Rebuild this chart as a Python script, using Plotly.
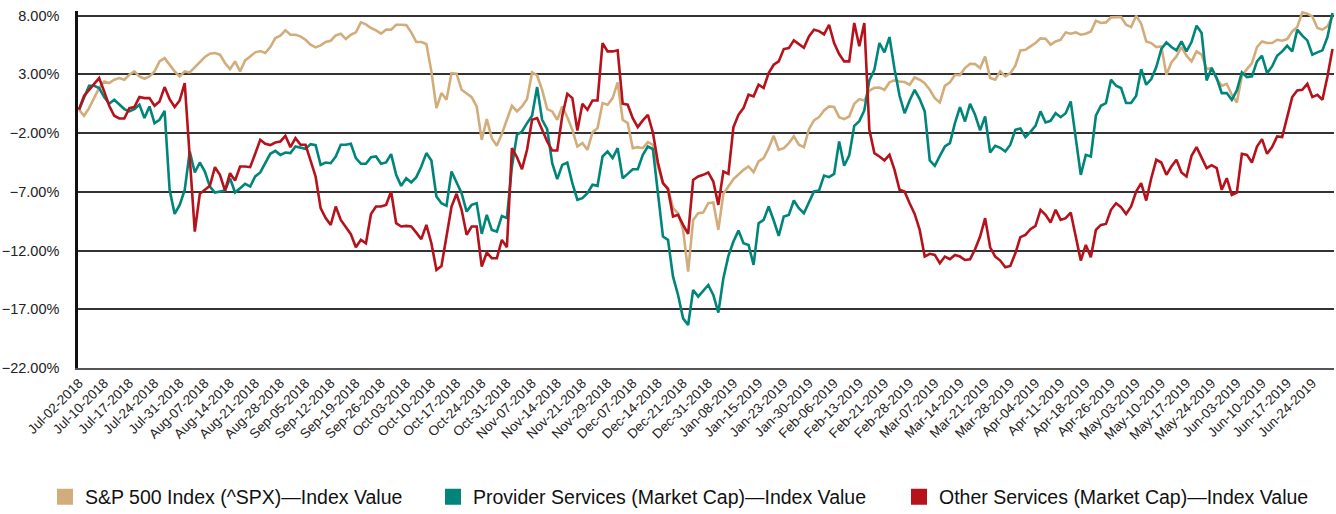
import pandas as pd
import plotly.graph_objects as go

# NYSE closures inside the window (trading days only on the x axis)
HOLIDAYS = ["2018-07-04", "2018-09-03", "2018-11-22", "2018-12-05", "2018-12-25",
            "2019-01-01", "2019-01-21", "2019-02-18", "2019-04-19", "2019-05-27"]

# daily change since Jul-02-2018, in %
sp500 = [
    0.0, -0.52, 0.13, 0.98, 1.84, 2.40, 2.26, 2.55, 2.69, 2.55,
    2.97, 3.26, 2.83, 2.63, 2.83, 3.26, 4.11, 4.39, 3.82, 3.26,
    2.83, 3.26, 3.17, 3.63, 4.11, 4.48, 4.76, 4.82, 4.68, 3.97,
    3.45, 4.11, 3.26, 4.19, 4.53, 4.88, 4.99, 4.82, 5.33, 6.10,
    6.30, 6.75, 6.38, 6.38, 6.24, 5.95, 5.53, 5.30, 5.47, 5.76,
    5.87, 6.32, 6.47, 6.01, 6.38, 6.58, 7.43, 7.26, 6.95, 6.75,
    6.47, 6.81, 6.81, 7.23, 7.23, 7.20, 6.58, 5.76, 5.76, 5.59,
    3.26, 0.13, 1.41, 0.84, 3.11, 3.06, 1.69, 1.41, 1.07, 0.27,
    -2.57, -0.81, -2.43, -3.08, -2.06, -0.86, 0.33, -0.15, 0.27, 0.90,
    3.17, 2.91, 1.69, 0.05, -0.15, -0.86, 0.27, -0.64, -1.72, -3.14,
    -2.85, -3.42, -1.94, -1.57, 0.56, 0.42, 0.98, 2.32, -0.86, -1.15,
    -3.28, -3.19, -3.28, -2.77, -2.99, -4.84, -6.26, -6.69, -8.39, -8.82,
    -10.24, -13.79, -9.39, -8.82, -8.76, -7.97, -7.91, -10.24, -7.17, -6.55,
    -5.92, -5.52, -5.13, -4.84, -5.32, -4.41, -4.13, -3.28, -2.23, -3.42,
    -3.28, -2.85, -2.28, -2.99, -3.19, -1.66, -0.92, -0.64, -0.07, 0.27,
    0.22, -0.64, -0.81, -0.58, 0.50, 0.90, 0.78, 1.61, 1.86, 1.89,
    1.69, 2.32, 2.49, 2.40, 2.35, 2.12, 2.74, 2.55, 2.26, 1.69,
    0.98, 0.61, 2.03, 2.32, 2.97, 2.94, 3.54, 3.91, 3.88, 3.54,
    4.53, 2.69, 2.55, 3.26, 2.83, 3.11, 3.74, 5.05, 5.10, 5.39,
    5.67, 6.07, 6.04, 5.53, 5.81, 5.95, 6.58, 6.47, 6.58, 6.38,
    6.47, 6.66, 7.57, 7.38, 7.43, 7.86, 7.89, 7.89, 7.23, 7.03,
    8.00, 7.32, 5.81, 5.67, 5.33, 5.39, 2.97, 4.02, 4.53, 5.33,
    4.59, 4.11, 4.96, 4.68, 3.45, 3.54, 2.60, 2.03, 2.20, 1.27,
    0.61, 2.89, 3.45, 3.97, 5.33, 5.81, 5.67, 5.67, 5.95, 5.87,
    6.01, 6.66, 7.03, 8.28, 8.17, 7.94, 6.95, 6.81, 7.09, 7.94,
]

provider = [
    0.0, 1.07, 2.03, 2.03, 1.84, 1.07, 0.50, 0.84, 0.47, 0.05,
    -0.15, 0.05, 0.42, -0.72, 0.27, -1.15, -0.86, -0.10, -6.83, -8.88,
    -8.11, -6.83, -3.56, -5.35, -4.50, -5.27, -6.55, -7.06, -6.97, -6.89,
    -5.84, -7.06, -6.69, -6.32, -6.55, -5.69, -5.35, -4.61, -3.76, -3.51,
    -3.85, -3.65, -3.70, -3.14, -3.25, -3.34, -2.94, -3.02, -4.70, -4.50,
    -4.56, -3.99, -2.99, -2.99, -2.91, -4.13, -4.61, -4.61, -4.05, -3.99,
    -4.61, -4.50, -3.79, -5.55, -6.49, -5.84, -6.20, -5.75, -4.84, -3.70,
    -4.33, -7.40, -7.97, -8.19, -5.27, -6.12, -7.11, -8.68, -8.11, -7.97,
    -10.58, -8.96, -10.24, -10.38, -9.05, -9.24, -4.84, -2.14, -1.86, -1.15,
    -0.52, 1.92, -0.86, -1.66, -4.56, -5.92, -4.70, -4.50, -6.26, -7.68,
    -7.54, -7.11, -6.40, -6.49, -3.99, -3.56, -4.13, -3.28, -5.84, -5.47,
    -5.07, -5.07, -3.85, -3.14, -3.36, -7.11, -10.81, -11.09, -14.22, -15.78,
    -17.77, -18.34, -15.35, -15.92, -15.41, -14.93, -15.78, -17.28, -14.36, -12.45,
    -11.23, -10.30, -11.38, -11.52, -13.22, -9.67, -9.39, -8.25, -9.44, -10.75,
    -9.10, -8.96, -7.74, -8.39, -8.82, -7.82, -6.97, -6.89, -5.61, -5.75,
    -5.47, -2.71, -4.78, -3.90, -1.38, -0.98, -0.07, 2.49, 3.40, 5.67,
    4.88, 6.18, 3.45, 1.18, -0.30, 0.78, 1.69, 0.90, -0.15, -4.33,
    -4.78, -3.93, -3.14, -2.85, -1.15, 0.22, -1.01, 0.50, -0.44, -1.77,
    -0.58, -3.65, -3.08, -3.25, -3.56, -2.99, -1.72, -1.60, -2.34, -1.89,
    -1.38, -0.15, -1.09, -0.95, -0.30, -0.64, -0.30, 0.70, -2.23, -5.55,
    -3.85, -3.99, -0.52, 0.33, 0.56, 2.55, 2.03, 1.84, 0.56, 0.56,
    1.18, 3.45, 2.12, 2.60, 3.63, 5.16, 5.73, 5.33, 5.05, 5.81,
    4.96, 5.76, 7.15, 6.52, 2.49, 3.54, 2.69, 1.41, 1.41, 0.84,
    1.64, 3.17, 2.77, 2.83, 4.11, 4.59, 3.11, 3.68, 4.59, 4.96,
    5.44, 4.96, 6.81, 6.30, 5.90, 4.68, 4.88, 5.05, 6.18, 8.23,
]

other = [
    0.0, 1.18, 1.69, 2.20, 2.69, 1.55, 0.33, -0.52, -0.75, -0.75,
    0.13, 0.22, 1.07, 0.98, 0.98, 0.33, 0.70, 1.92, 0.90, 0.22,
    0.78, 2.26, -3.99, -10.38, -7.17, -6.83, -6.49, -4.90, -5.55, -6.89,
    -5.41, -6.03, -4.84, -4.84, -4.90, -3.76, -2.57, -2.91, -3.02, -2.80,
    -2.71, -2.23, -3.19, -2.43, -2.99, -2.99, -4.41, -5.69, -8.39, -9.24,
    -9.81, -8.25, -9.39, -9.95, -10.61, -11.72, -11.09, -11.38, -8.88, -8.25,
    -8.25, -8.11, -6.97, -9.67, -9.95, -9.90, -9.95, -10.47, -11.03, -9.81,
    -11.38, -13.65, -13.31, -10.81, -8.25, -7.17, -8.53, -10.66, -9.95, -9.95,
    -13.36, -12.17, -12.65, -12.65, -11.09, -11.72, -3.28, -4.05, -5.07, -3.42,
    -0.86, -0.72, -1.77, -2.71, -3.48, -3.48, -0.52, 1.35, 0.98, -1.77,
    0.50, -0.01, 0.78, 0.78, 5.67, 4.96, 4.96, 5.05, 0.50, 0.42,
    -0.72, -1.49, -0.92, -0.44, -1.94, -4.50, -6.26, -6.77, -9.10, -8.96,
    -9.81, -10.58, -5.98, -5.69, -5.55, -5.35, -6.12, -8.11, -5.27, -5.47,
    -1.49, -0.44, 0.13, 1.27, 1.13, 2.12, 1.84, 3.11, 3.82, 4.11,
    5.16, 5.24, 5.90, 5.61, 5.27, 6.24, 6.81, 6.69, 6.41, 7.23,
    5.67, 4.73, 4.11, 4.11, 7.38, 5.39, 7.38, -1.72, -3.70, -3.99,
    -4.33, -3.85, -5.13, -6.83, -6.97, -7.97, -8.88, -10.24, -12.51, -12.28,
    -12.37, -13.08, -12.51, -12.74, -12.37, -12.51, -12.80, -12.74, -11.89, -10.81,
    -9.24, -11.72, -12.51, -12.85, -13.42, -13.31, -12.23, -10.86, -10.66, -10.18,
    -9.90, -8.53, -8.96, -9.61, -8.53, -9.39, -9.24, -8.76, -10.95, -12.85,
    -11.52, -12.57, -10.24, -9.81, -9.73, -8.53, -7.97, -8.31, -8.88, -8.25,
    -6.97, -6.26, -7.74, -5.84, -4.27, -4.50, -5.55, -4.84, -4.27, -5.35,
    -5.69, -3.93, -3.19, -4.13, -4.98, -4.73, -4.98, -6.83, -5.84, -7.26,
    -7.06, -3.76, -3.85, -4.50, -3.14, -2.51, -3.76, -3.19, -2.28, -2.34,
    -0.52, 1.07, 1.64, 1.69, 2.20, 1.07, 1.27, 0.84, 2.83, 5.16,
]

series_names = ["S&P 500 Index (^SPX)\u2014Index Value",
                "Provider Services (Market Cap)\u2014Index Value",
                "Other Services (Market Cap)\u2014Index Value"]
colors = ["#D2AD7B", "#00857A", "#B5121B"]
legend_ids = ["legend", "legend2", "legend3"]
legend_x = [45, 433, 899]  # left edge of each legend box, px

dates = pd.bdate_range("2018-07-02", "2019-06-28", freq="C", holidays=HOLIDAYS)
days = [d.strftime("%b-%d-%Y") for d in dates]
tick_labels = days[::5]

W, H = 1336, 514
Y_TOP = 8.4          # a little headroom so peaks above 8% aren't clipped
PX_PER_PCT = 352 / 30
legend_font = dict(family="Liberation Sans, Arial, sans-serif", size=19.5, color="#111")

fig = go.Figure()
for name, vals, col, lg in zip(series_names, [sp500, provider, other], colors, legend_ids):
    fig.add_trace(go.Scatter(x=days, y=vals, mode="lines", name=name,
                             line=dict(color=col, width=2.6), showlegend=False))
    # square swatch for the legend
    fig.add_trace(go.Scatter(x=[None], y=[None], mode="markers", name=name, legend=lg,
                             marker=dict(symbol="square", size=17, color=col)))

legends = {}
for lg, lx in zip(legend_ids, legend_x):
    legends[lg] = dict(orientation="h", xref="container", yref="container",
                       x=lx / W, xanchor="left", y=1 - 497 / H, yanchor="middle",
                       font=legend_font, bgcolor="rgba(0,0,0,0)", borderwidth=0)

fig.update_layout(
    width=W, height=H,
    margin=dict(l=76, r=2, t=16 - (Y_TOP - 8) * PX_PER_PCT, b=146),
    plot_bgcolor="white", paper_bgcolor="white",
    font=dict(family="Liberation Sans, Arial, sans-serif", color="#222"),
    **legends,
)
fig.update_xaxes(type="category", range=[-0.2, 249.3], tickvals=tick_labels,
                 ticktext=tick_labels, tickangle=-45, showgrid=False,
                 tickfont=dict(size=13.5, color="#222"), ticks="",
                 showline=True, linecolor="#555", linewidth=2)
fig.update_yaxes(range=[-22, Y_TOP], tick0=-22, dtick=5, ticksuffix="%", tickformat=".2f",
                 showgrid=True, gridcolor="#333", gridwidth=1.5, zeroline=False,
                 showline=True, linecolor="#111", linewidth=2.5,
                 tickfont=dict(size=14.5, color="#222"), ticklabelstandoff=13)

# page default body margin would push the figure 8px off the window
fig.write_html("out.html", config={"displayModeBar": False},
               post_script="document.body.style.margin='0';")
